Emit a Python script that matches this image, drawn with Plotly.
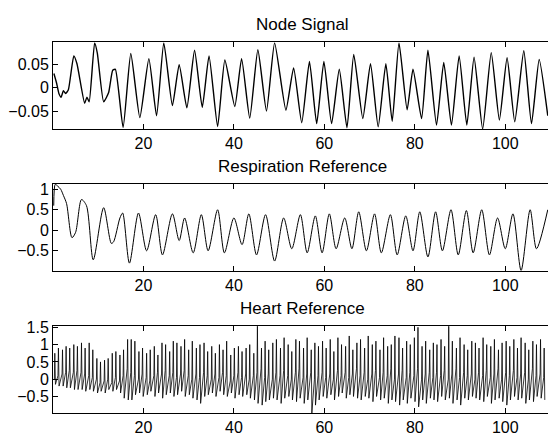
import plotly.graph_objects as go

# ---------------- data ----------------
node_t = [0.2, 0.8, 1.3, 1.8, 2.3, 2.8, 3.4, 4.6, 5.3, 7.0, 7.5, 8.0, 9.2, 9.8, 11.2, 12.3,
          13.2, 13.8, 15.5, 17.2, 19.2, 21.2, 22.9, 24.5, 26.4, 27.9, 29.6, 31.3, 33.0, 34.5,
          36.4, 38.0, 40.2, 41.7, 43.5, 45.3, 47.2, 49.0, 51.5, 53.2, 55.0, 56.7, 58.3, 59.9,
          61.6, 63.3, 65.0, 66.5, 68.5, 70.2, 71.9, 73.6, 75.0, 76.5, 78.3, 79.6, 81.5, 82.9,
          84.8, 86.4, 88.1, 89.8, 91.5, 93.1, 95.0, 96.9, 98.7, 100.4, 102.1, 104.1, 105.8,
          107.5, 109.4]
node_v = [0.031, 0.010, -0.012, -0.020, -0.006, -0.012, -0.004, 0.069, 0.052, -0.033, -0.020,
          -0.030, 0.097, 0.075, -0.030, -0.010, 0.038, 0.040, -0.085, 0.074, -0.064, 0.063,
          -0.060, 0.097, -0.038, 0.050, -0.043, 0.081, -0.042, 0.069, -0.083, 0.060, -0.040,
          0.063, -0.065, 0.082, -0.050, 0.097, -0.048, 0.043, -0.075, 0.057, -0.077, 0.057,
          -0.077, 0.040, -0.086, 0.072, -0.066, 0.052, -0.084, 0.052, -0.072, 0.097, -0.047,
          0.040, -0.066, 0.081, -0.080, 0.055, -0.080, 0.069, -0.080, 0.066, -0.0885, 0.076,
          -0.069, 0.065, -0.073, 0.080, -0.077, 0.061, -0.060]

resp_t = [0.16, 0.5, 1.0, 1.7, 2.3, 3.0, 4.2, 5.0, 6.3, 7.4, 8.9, 11.2, 12.9, 13.4, 14.8, 15.4,
          16.9, 18.9, 20.7, 22.7, 24.2, 26.4, 27.9, 29.1, 31.0, 32.8, 34.3, 36.4, 37.9, 40.0,
          41.8, 43.3, 45.0, 47.0, 49.0, 51.0, 52.8, 54.7, 56.2, 58.0, 59.5, 61.1, 62.6, 64.5,
          66.1, 67.6, 69.3, 71.1, 72.6, 74.6, 76.1, 78.0, 79.6, 81.1, 82.9, 84.6, 86.1, 88.0,
          89.6, 91.4, 92.9, 94.8, 96.5, 98.3, 100.0, 101.7, 103.5, 105.5, 106.9, 109.4]
resp_v = [0.6, 1.12, 1.08, 1.0, 0.85, 0.65, -0.18, -0.05, 0.75, 0.6, -0.72, 0.55, -0.32, -0.28,
          0.3, 0.42, -0.8, 0.42, -0.5, 0.38, -0.6, 0.4, -0.25, 0.3, -0.55, 0.38, -0.5, 0.5,
          -0.55, 0.3, -0.35, 0.4, -0.6, 0.38, -0.75, 0.3, -0.45, 0.38, -0.55, 0.35, -0.55, 0.4,
          -0.45, 0.3, -0.45, 0.45, -0.5, 0.4, -0.55, 0.38, -0.6, 0.35, -0.5, 0.45, -0.65, 0.45,
          -0.5, 0.5, -0.6, 0.48, -0.55, 0.5, -0.6, 0.3, -0.45, 0.4, -0.98, 0.5, -0.45, 0.5]

beat_t = [0.3, 1.1, 2.0, 2.8, 3.6, 4.5, 5.3, 6.2, 7.0, 7.9, 8.7, 9.6, 10.4, 11.3, 12.1, 13.0,
          13.8, 14.7, 15.5, 16.4, 17.2, 18.0, 18.9, 19.7, 20.6, 21.4, 22.3, 23.1, 24.0, 24.8,
          25.7, 26.5, 27.3, 28.2, 29.0, 29.9, 30.7, 31.6, 32.4, 33.3, 34.1, 35.0, 35.8, 36.7,
          37.5, 38.3, 39.2, 40.0, 40.9, 41.7, 42.6, 43.4, 44.3, 45.1, 46.0, 46.8, 47.6, 48.5,
          49.3, 50.2, 51.0, 51.9, 52.7, 53.6, 54.4, 55.3, 56.1, 57.0, 57.8, 58.6, 59.5, 60.3,
          61.2, 62.0, 62.9, 63.7, 64.6, 65.4, 66.2, 67.1, 67.9, 68.8, 69.6, 70.5, 71.3, 72.2,
          73.0, 73.9, 74.7, 75.5, 76.4, 77.2, 78.1, 78.9, 79.8, 80.6, 81.5, 82.3, 83.2, 84.0,
          84.8, 85.7, 86.5, 87.4, 88.2, 89.1, 89.9, 90.8, 91.6, 92.5, 93.3, 94.1, 95.0, 95.8,
          96.7, 97.5, 98.4, 99.2, 100.1, 100.9, 101.8, 102.6, 103.4, 104.3, 105.1, 106.0,
          106.8, 107.7, 108.5]
beat_base = [0.0, 0.1, 0.15, 0.2, 0.25, 0.2, 0.25, 0.2, 0.15, 0.1,
             0.05, 0.0, -0.1, -0.05, 0.0, -0.1, 0.05, -0.05, 0.1, 0.3,
             0.2, 0.1, 0.0, 0.15, 0.05, -0.05, 0.1, 0.2, 0.15, 0.25,
             0.1, 0.2, 0.05, 0.15, 0.25, 0.1, 0.0, 0.15, 0.05, 0.2,
             0.1, 0.0, 0.15, 0.05, 0.2, 0.1, -0.05, 0.1, 0.2, 0.05,
             0.15, 0.0, 0.1, 0.2, 0.3, 0.05, 0.15, 0.0, 0.2, 0.1,
             0.25, 0.1, 0.0, 0.2, 0.3, 0.05, 0.15, 0.2, 0.0, 0.1,
             0.2, 0.05, 0.15, 0.0, 0.25, 0.1, 0.2, 0.05, 0.15, 0.3,
             0.1, 0.2, 0.0, 0.15, 0.25, 0.05, 0.2, 0.1, 0.3, 0.0,
             0.15, 0.25, 0.05, 0.2, 0.1, 0.3, 0.0, 0.15, 0.2, 0.05,
             0.2, 0.1, 0.25, 0.0, 0.15, 0.3, 0.05, 0.2, 0.1, 0.15,
             0.0, 0.2, 0.1, 0.25, 0.05, 0.15, 0.3, 0.0, 0.2, 0.1,
             0.25, 0.05, 0.15, 0.2, 0.0, 0.3, 0.1, 0.15, 0.05]
beat_peak = [0.75, 0.9, 0.85, 0.95, 0.9, 1.0, 0.95, 1.05, 0.9, 1.05,
             0.85, 0.6, 0.5, 0.55, 0.6, 0.75, 0.8, 0.7, 0.85, 1.15,
             1.15, 1.1, 0.8, 0.9, 0.75, 0.85, 0.95, 0.7, 1.05, 1.0,
             0.8, 1.1, 1.05, 0.95, 1.15, 0.85, 1.1, 0.9, 1.0, 1.05,
             0.8, 0.95, 0.75, 1.0, 0.85, 1.1, 0.7, 0.9, 0.95, 0.8,
             0.9, 1.0, 0.75, 1.53, 0.9, 1.1, 0.85, 1.05, 1.15, 0.9,
             1.2, 1.0, 0.8, 1.15, 1.1, 0.9, 1.2, 0.85, 1.05, 0.95,
             1.1, 0.9, 1.15, 0.8, 1.2, 1.0, 0.95, 1.25, 0.85, 1.05,
             1.15, 0.9, 1.25, 1.0, 1.1, 0.85, 1.2, 0.95, 1.0, 1.25,
             1.2, 0.9, 1.1, 1.0, 1.2, 1.5, 0.95, 1.1, 0.85, 1.05,
             1.0, 1.15, 0.95, 1.53, 1.1, 0.9, 1.2, 1.0, 0.85, 1.1,
             1.05, 0.9, 1.2, 1.0, 0.95, 1.15, 0.85, 1.05, 1.1, 0.95,
             1.15, 0.9, 1.2, 1.05, 0.85, 1.1, 1.0, 1.15, 0.9]
beat_trough = [-0.15, -0.2, -0.2, -0.25, -0.25, -0.3, -0.3, -0.3, -0.35, -0.3,
               -0.35, -0.4, -0.35, -0.4, -0.3, -0.35, -0.3, -0.4, -0.55, -0.6,
               -0.6, -0.45, -0.4, -0.5, -0.45, -0.35, -0.5, -0.4, -0.55, -0.45,
               -0.4, -0.5, -0.45, -0.35, -0.5, -0.45, -0.55, -0.6, -0.7, -0.5,
               -0.45, -0.4, -0.5, -0.35, -0.45, -0.5, -0.4, -0.55, -0.45, -0.5,
               -0.45, -0.55, -0.6, -0.7, -0.75, -0.65, -0.6, -0.55, -0.6, -0.7,
               -0.55, -0.5, -0.6, -0.65, -0.55, -0.7, -0.6, -0.98, -0.75, -0.6,
               -0.5, -0.55, -0.45, -0.6, -0.5, -0.4, -0.55, -0.45, -0.5, -0.55,
               -0.6, -0.5, -0.55, -0.65, -0.5, -0.6, -0.55, -0.7, -0.6, -0.65,
               -0.75, -0.6, -0.7, -0.55, -0.65, -0.8, -0.6, -0.7, -0.55, -0.6,
               -0.65, -0.5, -0.6, -0.55, -0.7, -0.6, -0.75, -0.55, -0.6, -0.5,
               -0.55, -0.6, -0.65, -0.5, -0.7, -0.6, -0.55, -0.65, -0.75, -0.6,
               -0.5, -0.6, -0.55, -0.7, -0.6, -0.65, -0.5, -0.55, -0.6]

x_ticks = [20, 40, 60, 80, 100]
titles = ["Node Signal", "Respiration Reference", "Heart Reference"]
y_ticks = [[-0.05, 0, 0.05], [-0.5, 0, 0.5, 1], [-0.5, 0, 0.5, 1, 1.5]]
y_ticktext = [["\u22120.05", "0", "0.05"], ["\u22120.5", "0", "0.5", "1"],
              ["\u22120.5", "0", "0.5", "1", "1.5"]]
y_ranges = [[-0.0885, 0.0985], [-0.985, 1.125], [-0.98, 1.535]]
x_range = [0, 109.45]

# ---------------- build heart polyline from beats ----------------
RISE, FALL = 0.1, 0.24  # spike shape timing within a beat
heart_t, heart_v = [], []
for t, b, p, tr in zip(beat_t, beat_base, beat_peak, beat_trough):
    heart_t += [t, t + RISE, t + FALL]
    heart_v += [b, p, tr]

W, H = 548, 436
LEFT = 53
panels_px = [(35.7, 124.0), (180.0, 268.0), (324.3, 412.7)]
FONT = "Liberation Sans, Arial, Helvetica, sans-serif"
TICK_SIZE = 16

fig = go.Figure()
series = [(node_t, node_v, 1.4, "spline", 0.5), (resp_t, resp_v, 1.0, "spline", 0.8),
          (heart_t, heart_v, 0.8, "linear", None)]
for i, (xs, ys, lw, shape, sm) in enumerate(series):
    sfx = "" if i == 0 else str(i + 1)
    line = dict(color="black", width=lw, shape=shape)
    if sm is not None:
        line["smoothing"] = sm
    fig.add_trace(go.Scatter(x=xs, y=ys, mode="lines", xaxis="x" + sfx, yaxis="y" + sfx,
                             line=line, showlegend=False, hoverinfo="skip"))

layout = dict(width=W, height=H, margin=dict(l=0, r=0, t=0, b=0),
              paper_bgcolor="white", plot_bgcolor="white",
              font=dict(family=FONT, size=TICK_SIZE, color="black"), annotations=[])
for i, (top, bot) in enumerate(panels_px):
    sfx = "" if i == 0 else str(i + 1)
    ydom = [1 - bot / H, 1 - top / H]
    layout["xaxis" + sfx] = dict(domain=[LEFT / W, 1], range=x_range, anchor="y" + sfx,
                                 showline=True, linecolor="black", linewidth=1, mirror="ticks",
                                 ticks="inside", ticklen=5, tickcolor="black",
                                 tickvals=x_ticks, ticktext=[str(v) for v in x_ticks],
                                 showgrid=False, zeroline=False,
                                 tickfont=dict(size=TICK_SIZE, color="black", family=FONT))
    layout["yaxis" + sfx] = dict(domain=ydom, range=y_ranges[i], anchor="x" + sfx,
                                 showline=True, linecolor="black", linewidth=1,
                                 ticks="inside", ticklen=5, tickcolor="black",
                                 tickvals=y_ticks[i], ticktext=y_ticktext[i],
                                 showgrid=False, zeroline=False,
                                 tickfont=dict(size=TICK_SIZE, color="black", family=FONT))
    layout["annotations"].append(dict(text=titles[i], xref="paper", yref="paper",
                                      x=(LEFT + 551) / 2 / W, y=1 - (top - 17.5) / H,
                                      xanchor="center", yanchor="middle", showarrow=False,
                                      font=dict(size=17, color="black", family=FONT)))
fig.update_layout(**layout)
fig.write_html("out.html", config={"displayModeBar": False},
               post_script="document.body.style.margin='0';document.body.style.overflow='hidden';")
